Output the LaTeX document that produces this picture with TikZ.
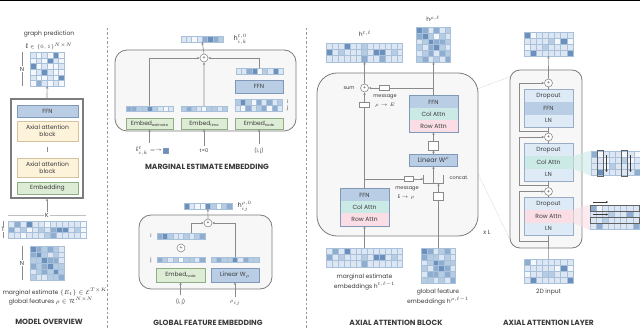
\documentclass[tikz,border=0pt]{standalone}
\usepackage{fontspec}
\setmainfont{Poppins}
\usetikzlibrary{calc,arrows.meta,fit}
\definecolor{m0}{HTML}{F4F8FC}
\definecolor{m1}{HTML}{DCE7F3}
\definecolor{m2}{HTML}{B6CCE3}
\definecolor{m3}{HTML}{8FADCF}
\definecolor{m4}{HTML}{6A90BB}
\definecolor{gridc}{HTML}{A9C0DA}
\definecolor{ffnfill}{HTML}{B9CEE4}
\definecolor{ffnedge}{HTML}{8199B8}
\definecolor{yelfill}{HTML}{FDF2DA}
\definecolor{yeledge}{HTML}{D6C39E}
\definecolor{grnfill}{HTML}{DDECD4}
\definecolor{grnedge}{HTML}{8FAC85}
\definecolor{tealfill}{HTML}{CBEAE6}
\definecolor{pinkfill}{HTML}{FADDE5}
\definecolor{lbfill}{HTML}{DEEBF7}
\definecolor{boxedge}{HTML}{7C7C7C}
\definecolor{boxfill}{HTML}{F7F7F7}
\definecolor{linec}{HTML}{8A8A8A}
\definecolor{txt}{HTML}{3A3A3A}
\definecolor{capc}{HTML}{3B3B3B}
\definecolor{sepc}{HTML}{9A9A9A}
\newcommand\mymat[8]{%
  \foreach \rw [count=\r from 0] in {#8} {
    \foreach \cv [count=\k from 0] in \rw {
      \filldraw[fill=m\cv, draw=gridc, line width=0.35] ({#2+\k*#4},{#3+\r*#5}) rectangle ++(#4,#5);
    }
  }
  \path (#2,#3) coordinate (#1-nw) ({#2+#6*#4},{#3+#7*#5}) coordinate (#1-se);
  \node[inner sep=0, outer sep=0, fit=(#1-nw)(#1-se)] (#1) {};
}
\newcommand\sbs[1]{\raisebox{-1pt}{\fontsize{3.6}{4}\selectfont #1}}
\begin{document}
\begin{tikzpicture}[x=1pt,y=-1pt,
  every node/.style={font=\fontsize{6}{7}\selectfont, text=txt},
  conn/.style={draw=linec, line width=0.6, -{Stealth[length=2.6pt,width=2.4pt]}},
  plain/.style={draw=linec, line width=0.6},
  oplus/.style={circle, draw=linec, fill=white, line width=0.6, minimum size=8, inner sep=0, font=\fontsize{5}{5}\selectfont},
  grp/.style={draw=boxedge, fill=boxfill, line width=0.8, rounded corners=12},
  ffnbox/.style={draw=ffnedge, fill=ffnfill, line width=0.6, inner sep=0},
  yelbox/.style={draw=yeledge, fill=yelfill, line width=0.6, inner sep=0, align=center},
  grnbox/.style={draw=grnedge, fill=grnfill, line width=0.6, inner sep=0},
  part/.style={inner sep=0, minimum width=49, minimum height=12.3},
  small/.style={font=\fontsize{5}{6}\selectfont},
  captext/.style={font=\fontsize{7.5}{9}\selectfont\bfseries, text=capc},
  tinybox/.style={draw=linec, fill=white, line width=0.6, inner sep=0},
  sepline/.style={draw=sepc, line width=0.8, dash pattern=on 2.5pt off 2pt},
  faint/.style={draw=gray!45, line width=0.4, dash pattern=on 1pt off 1pt},
  brk/.style={draw=linec, line width=0.4}
]
\useasboundingbox (0,0) rectangle (640,331);
\fill[white] (0,0) rectangle (640,331);
\draw[black, line width=1.2] (0,0.6) -- (640,0.6);

%% separators
\draw[sepline] (107,28) -- (107,328);
\draw[sepline] (306,28) -- (306,328);

%% ================= MODEL OVERVIEW
\node[inner sep=0] (gpt) at (49,34.5) {graph prediction};
\node[inner sep=0, font=\fontsize{5.5}{6}\selectfont] (gps) at (49,46) {Ê $\in\{0,1\}^{N\times N}$};
\mymat{gp}{30}{52}{5.7}{5.7}{6}{6}{{1,0,1,0,4,0},{0,1,0,4,1,0},{4,0,1,0,0,1},{0,1,4,1,0,0},{1,0,0,1,0,4},{0,3,1,0,1,0}}
\node[inner sep=1] (gpN) at (22,69.1) {N};
\draw[brk] (22,52) -- (gpN.north) (gpN.south) -- (22,86.2);
\node[draw=boxedge, line width=1.1, minimum width=72, minimum height=99, inner sep=0] (mbox) at (47,148.5) {};
\node[ffnbox, minimum width=61, minimum height=12] (mffn) at (47.5,111) {FFN};
\node[yelbox, minimum width=61, minimum height=20] (maa1) at (47.5,131) {Axial attention\\block};
\node[inner sep=0, minimum height=5, minimum width=1] (mdots) at (47.5,149.5) {};
\draw[brk] (mdots.north) -- (mdots.south);
\node[yelbox, minimum width=61, minimum height=19] (maa2) at (47.5,167.5) {Axial attention\\block};
\node[grnbox, minimum width=61, minimum height=12] (memb) at (47.5,188) {Embedding};
\draw[conn] (mbox.north) -- (gp.south);
\draw[brk, draw=gray!50] (8,215.5) -- (86,215.5);
\node[fill=white, inner sep=1] (mK) at (47,215.5) {K};
\draw[conn] (mK.north) -- (mbox.south);
\mymat{tm}{8}{221}{6}{5.7}{13}{3}{{1,3,1,4,1,1,0,1,1,1,1,1,0},{3,1,2,0,1,2,1,3,4,4,1,2,0},{1,1,0,1,1,1,2,3,1,1,1,1,0}}
\node[inner sep=0.5] (tmT) at (3,229.5) {T};
\draw[brk] (3,221) -- (tmT.north) (tmT.south) -- (3,238.1);
\mymat{gf}{30}{246}{5.7}{5.7}{6}{6}{{4,3,2,3,2,1},{3,4,2,1,2,1},{2,2,4,3,3,1},{3,2,3,4,2,2},{1,2,3,2,4,2},{2,1,1,2,2,3}}
\node[inner sep=1] (gfN) at (22,263) {N};
\draw[brk] (22,246) -- (gfN.north) (gfN.south) -- (22,280.2);
\node (mt1) at (55,292) {marginal estimate $\{E_t\}\in\mathcal{E}^{T\times K}$};
\node (mt2) at (51,301) {global features $\rho\in\mathcal{R}^{N\times N}$};
\node[captext] (capA) at (49,322) {MODEL OVERVIEW};

%% ================= MARGINAL ESTIMATE EMBEDDING
\draw[grp] (115,50) rectangle (296,131);
\mymat{ov1}{181}{36}{5.3}{6}{8}{1}{{1,1,0,1,3,4,3,2}}
\node[anchor=west, font=\fontsize{6.5}{7}\selectfont] (hl1) at (230,39) {h$^{t,0}_{i,k}$};
\node[oplus] (p1) at (204,58) {+};
\mymat{lv}{126}{106}{5.25}{5.5}{9}{1}{{3,3,2,2,4,2,1,0,1}}
\mymat{mv}{181}{106}{5.1}{5.5}{9}{1}{{2,3,2,1,0,2,2,1,2}}
\mymat{rv}{236}{68}{5.25}{6}{9}{1}{{1,1,3,4,0,2,1,4,1}}
\node[ffnbox, minimum width=48, minimum height=13] (effn) at (259,86.5) {FFN};
\mymat{rm}{235}{99}{5.25}{6}{9}{2}{{2,4,2,0,3,1,3,1,2},{1,0,3,1,2,3,0,3,1}}
\node[small, inner sep=0] (rmi) at (287.5,102) {i};
\node[small, inner sep=0] (rmj) at (287.5,108) {j};
\node[grnbox, minimum width=47, minimum height=11] (emb1) at (149.5,123.5) {Embed\sbs{estimate}};
\node[grnbox, minimum width=46, minimum height=11] (emb2) at (204,123.5) {Embed\sbs{time}};
\node[grnbox, minimum width=48, minimum height=11] (emb3) at (259,123.5) {Embed\sbs{node}};
\draw[conn] (lv.north) |- (p1.west);
\draw[conn] (mv.north) -- (p1.south);
\draw[conn] (rv.north) |- (p1.east);
\draw[conn] (p1.north) -- (ov1.south);
\node[small] (in1) at (149,151) {Ê$^{t}_{i,k}=\rightarrow$};
\node[draw=ffnedge, fill=m4, minimum size=5, inner sep=0, line width=0.4] (sqin) at (166,151) {};
\node[small] (in2) at (204,151) {t=0};
\node[small] (in3) at (259,151) {(i, j)};
\draw[conn] (in1.north -| emb1) -- (emb1.south);
\draw[conn] (in2.north) -- (emb2.south);
\draw[conn] (in3.north) -- (emb3.south);
\node[captext] (capB) at (207,167) {MARGINAL ESTIMATE EMBEDDING};

%% ================= GLOBAL FEATURE EMBEDDING
\draw[grp] (139,215) rectangle (272,289);
\mymat{ov2}{184}{203}{5.3}{6}{9}{1}{{4,1,0,0,4,2,0,2,3}}
\node[anchor=west, font=\fontsize{6.5}{7}\selectfont] (hl2) at (234,206) {h$^{\rho,0}_{ij}$};
\node[oplus] (p2) at (208,223) {+};
\mymat{vi}{157}{233}{5.3}{6}{9}{1}{{3,4,2,1,1,2,1,2,3}}
\node[small] (vil) at (151,236) {i};
\node[oplus] (p3) at (181,248) {+};
\mymat{vj}{157}{257}{5.3}{5.5}{9}{1}{{3,2,1,2,0,2,2,1,3}}
\node[small] (vjl) at (151,260) {j};
\mymat{vr}{211}{257}{5.3}{5.5}{9}{1}{{2,3,2,2,4,1,3,2,2}}
\node[grnbox, minimum width=49, minimum height=14] (gemb) at (180.5,275) {Embed\sbs{node}};
\node[ffnbox, minimum width=48, minimum height=14] (glin) at (235,275) {Linear W$_\rho$};
\draw[conn] ([xshift=-13pt]vi.north east) |- (p2.west);
\draw[conn] (vr.north) |- (p2.east);
\draw[conn] (p2.north) -- (ov2.south);
\node[small] (gin1) at (180.5,302) {(i, j)};
\node[small] (gin2) at (235,303) {$\rho_{ij}$};
\draw[conn] (gin1.north) -- (gemb.south);
\draw[conn] (gin2.north) -- (glin.south);
\node[captext] (capC) at (208,323) {GLOBAL FEATURE EMBEDDING};

%% ================= AXIAL ATTENTION BLOCK
\draw[faint] (458,96) -- (512,76);
\draw[faint] (458,132) -- (513,246);
\draw[grp, rounded corners=20] (317,73) rectangle (478,236);
\node (htl) at (365,34) {h$^{t,\ell}$};
\mymat{ht}{326.5}{43}{5.85}{6.3}{13}{3}{{1,1,1,4,1,1,2,1,1,1,1,1,1},{4,1,2,1,1,1,2,1,4,4,1,2,1},{1,1,1,1,1,1,3,1,1,3,1,1,1}}
\node (hrl) at (433,19) {h$^{\rho,\ell}$};
\mymat{hr}{416.4}{27}{5.7}{5.85}{6}{6}{{4,3,1,3,1,2},{3,4,2,0,2,1},{1,2,4,3,3,2},{2,1,3,4,2,1},{1,2,3,1,3,2},{2,3,1,2,1,3}}
\node[oplus] (p4) at (364.5,88) {+};
\node[small, anchor=east] (suml) at (358,88) {sum};
\node[tinybox, minimum width=10, minimum height=5.5] (sr1) at (384,88) {};
\node[small] (msg1) at (385,96.5) {message};
\node[small] (msg1b) at (385,105) {$\rho\rightarrow E$};
\node[tinybox, minimum width=10, minimum height=5] (lr) at (364.5,104.5) {};
\node[part, fill=ffnfill] (bffn) at (433.5,102) {FFN};
\node[part, fill=tealfill] (bcol) at (433.5,114) {Col Attn};
\node[part, fill=pinkfill] (brow) at (433.5,126) {Row Attn};
\draw[ffnedge, line width=0.6] (bffn.north west) rectangle (brow.south east);
\node[tinybox, minimum width=10, minimum height=9] (sq1) at (433.5,145.5) {};
\node[ffnbox, minimum width=48, minimum height=12, font=\fontsize{6.5}{7}\selectfont] (blin) at (433.5,160) {Linear W$^{\rho}$};
\node[inner sep=0, minimum width=20, minimum height=8] (cc) at (433.5,179) {};
\draw[plain] (cc.north west) -- (cc.south west) -- (cc.south east) -- (cc.north east) (cc.north) -- (cc.south);
\node[small, anchor=west] (ccl) at (446,178) {concat.};
\node[tinybox, minimum width=9, minimum height=5] (sr2) at (409,179) {};
\node[small] (msg2) at (407,189) {message};
\node[small] (msg2b) at (406,197) {E $\rightarrow\rho$};
\node[tinybox, minimum width=10, minimum height=8] (sq2) at (438.5,196) {};
\node[part, fill=ffnfill] (lffn) at (364.5,195) {FFN};
\node[part, fill=tealfill] (lcol) at (364.5,207.3) {Col Attn};
\node[part, fill=pinkfill] (lrow) at (364.5,219.6) {Row Attn};
\draw[ffnedge, line width=0.6] (lffn.north west) rectangle (lrow.south east);
\mymat{bm}{326.5}{248}{5.85}{6.3}{13}{3}{{1,3,1,4,1,1,1,1,1,1,1,1,1},{3,1,2,1,1,1,2,1,4,4,1,2,1},{1,1,1,1,1,1,3,1,1,1,1,1,1}}
\mymat{gm}{421.4}{248}{5.7}{5.85}{6}{6}{{4,3,1,2,3,1},{3,2,2,1,2,1},{1,2,4,3,2,2},{2,1,3,4,3,1},{1,3,3,2,3,2},{2,2,1,2,1,3}}
% connectors
\draw[conn] (p4.north) -- (ht.south);
\draw[conn] (bffn.north) -- (hr.south);
\draw[plain] (bffn.north |- p4) -- (sr1.east);
\draw[conn] (sr1.west) -- (p4.east);
\draw[plain] (lffn.north) -- (lr.south);
\draw[conn] (lr.north) -- (p4.south);
\draw[conn] (blin.north) -- (sq1.south);
\draw[conn] (sq1.north) -- (brow.south);
\draw[conn] (cc.north) -- (blin.south);
\draw[plain] (lffn.north |- sr2) -- (sr2.west);
\draw[conn] (sr2.east) -- (cc.west);
\draw[conn] (sq2.north) -- (sq2.north |- cc.south);
\draw[plain] (gm.north) -- (sq2.south);
\draw[conn] (bm.north) -- (lrow.south);
\node (bt1) at (364.5,277) {marginal estimate};
\node (bt2) at (364.5,286) {embeddings h$^{t,\ell-1}$};
\node (gt1) at (438,292) {global feature};
\node (gt2) at (438,301) {embeddings h$^{\rho,\ell-1}$};
\node (xL) at (487,232) {x L};
\node[captext] (capD) at (396,323) {AXIAL ATTENTION BLOCK};

%% ================= AXIAL ATTENTION LAYER
\draw[grp, rounded corners=10] (510,70) rectangle (582,248);
\mymat{tl}{524}{32}{6.1}{6}{8}{4}{{4,0,1,1,1,1,1,1},{1,1,1,1,2,0,4,0},{0,1,1,2,1,1,1,1},{1,4,1,1,1,1,1,4}}
\node[oplus] (q1) at (548.5,83) {+};
\node[oplus] (q2) at (548.5,137) {+};
\node[oplus] (q3) at (548.5,191.5) {+};
\node[part, fill=lbfill] (d1) at (548.5,96.15) {Dropout};
\node[part, fill=ffnfill] (f1) at (548.5,108.45) {FFN};
\node[part, fill=lbfill] (l1) at (548.5,120.75) {LN};
\draw[ffnedge!80, line width=0.6] (d1.north west) rectangle (l1.south east);
\node[part, fill=lbfill] (d2) at (548.5,150.15) {Dropout};
\node[part, fill=tealfill] (c2) at (548.5,162.45) {Col Attn};
\node[part, fill=lbfill] (l2) at (548.5,174.75) {LN};
\draw[ffnedge!80, line width=0.6] (d2.north west) rectangle (l2.south east);
\node[part, fill=lbfill] (d3) at (548.5,204.15) {Dropout};
\node[part, fill=pinkfill] (r3) at (548.5,216.45) {Row Attn};
\node[part, fill=lbfill] (l3) at (548.5,228.75) {LN};
\draw[ffnedge!80, line width=0.6] (d3.north west) rectangle (l3.south east);
\mymat{in2}{524}{259}{6.1}{6}{8}{4}{{3,0,1,1,1,1,1,1},{1,1,1,1,1,0,4,0},{0,1,1,2,2,1,1,1},{1,4,1,1,1,1,1,4}}
\node (in2l) at (548.5,292) {2D input};
\draw[plain] (in2.north) -- (l3.south);
\draw[plain] (d3.north) -- (q3.south);
\draw[plain] (q3.north) -- (l2.south);
\draw[plain] (d2.north) -- (q2.south);
\draw[plain] (q2.north) -- (l1.south);
\draw[plain] (d1.north) -- (q1.south);
\draw[conn] (q1.north) -- (tl.south);
\coordinate (rs3) at (548.5,241.5);
\coordinate (rs2) at (548.5,185);
\coordinate (rs1) at (548.5,131.5);
\draw[conn] (rs3) -- ++(-29.5,0) |- (q3.west);
\draw[conn] (rs2) -- ++(-29.5,0) |- (q2.west);
\draw[conn] (rs1) -- ++(-29.5,0) |- (q1.west);
% col attention illustration
\fill[tealfill, opacity=0.6] (c2.north east) -- (591,150.5) -- (591,176) -- (c2.south east) -- cycle;
\mymat{cam}{591}{151}{6.1}{6.1}{8}{4}{{3,0,1,1,1,0,1,0},{1,1,0,1,1,2,0,1},{1,1,0,2,1,1,1,1},{1,4,1,1,1,1,1,3}}
\draw[txt!80, line width=0.6] (597.1,150) rectangle (603.2,176.4);
\draw[txt!80, line width=0.6] (621.5,150) rectangle (627.6,176.4);
\coordinate (ca1) at (606.5,155);
\coordinate (ca2) at (630.5,155);
\draw[txt, line width=0.5, -{Stealth[length=2pt,width=2pt]}] (ca1) -- ++(0,17);
\draw[txt, line width=0.5, -{Stealth[length=2pt,width=2pt]}] (ca2) -- ++(0,17);
% row attention illustration
\fill[pinkfill, opacity=0.6] (r3.north east) -- (590,204) -- (590,230) -- (r3.south east) -- cycle;
\mymat{ram}{590}{205}{6.1}{6}{8}{4}{{3,0,1,1,1,1,1,1},{1,1,1,2,1,1,3,1},{1,1,2,1,1,1,1,1},{1,3,1,1,1,1,1,3}}
\draw[txt!80, line width=0.6] (590,205) rectangle (638.8,211);
\draw[txt!80, line width=0.6] (590,217) rectangle (638.8,223);
\coordinate (ra1) at (593,202);
\coordinate (ra2) at (593,214.5);
\draw[txt, line width=0.5, -{Stealth[length=2pt,width=2pt]}] (ra1) -- ++(15,0);
\draw[txt, line width=0.5, -{Stealth[length=2pt,width=2pt]}] (ra2) -- ++(15,0);
\node[captext] (capE) at (548.5,323) {AXIAL ATTENTION LAYER};
\end{tikzpicture}
\end{document}
